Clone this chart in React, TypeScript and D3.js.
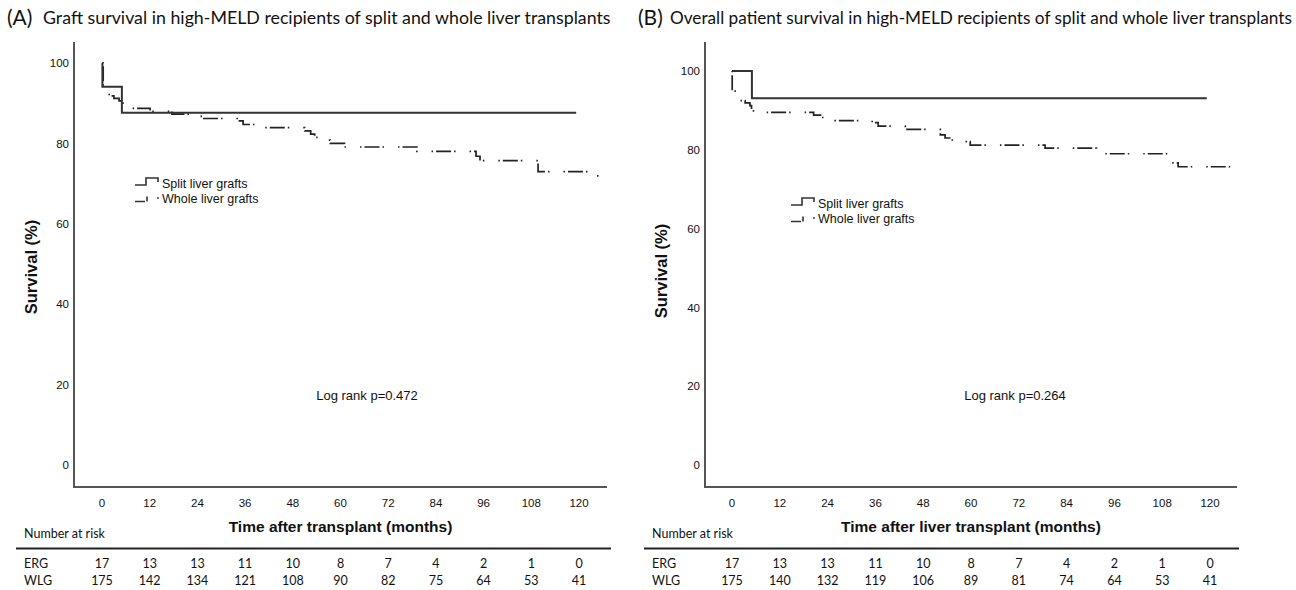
import * as d3 from "d3";

// x axis ticks (months) and y axis ticks (%)
const timeTicks = [0, 12, 24, 36, 48, 60, 72, 84, 96, 108, 120];
const survivalTicks = [0, 20, 40, 60, 80, 100];

// (A) graft survival: Kaplan-Meier steps as [month, survival %]
const graftSplit = [[0, 100], [0.1, 94.1], [5, 87.6], [119.3, 87.6]];
const graftWhole = [
  [0, 100], [0.3, 92.4], [1.8, 91.8], [3, 91.2], [4.3, 90.6], [4.8, 90.0],
  [5.8, 88.7], [12.1, 88.0], [17.6, 87.3], [24.2, 86.7], [25.4, 86.2],
  [34, 85.6], [35.5, 84.7], [40.3, 83.9], [51, 83.1], [52.5, 82.3],
  [53.5, 81.5], [54.3, 80.8], [57.4, 80.0], [61, 79.1], [79.2, 78.0],
  [94.1, 76.8], [95.1, 75.7], [109.7, 73.0], [124.5, 71.9], [125.3, 71.9],
];
const graftErg = [17, 13, 13, 11, 10, 8, 7, 4, 2, 1, 0];
const graftWlg = [175, 142, 134, 121, 108, 90, 82, 75, 64, 53, 41];

// (B) overall patient survival
const patientSplit = [[0, 100], [5, 93.1], [119.2, 93.1]];
const patientWhole = [
  [0, 100], [0.05, 94.9], [1.2, 92.5], [3.3, 91.9], [4.5, 91.2], [4.9, 89.9],
  [7.8, 89.5], [20.5, 88.8], [22.5, 88.2], [25.9, 87.4], [35.2, 86.9],
  [36.7, 86.0], [43.5, 85.2], [52.3, 83.8], [53.5, 83.0], [55.3, 82.1],
  [59.8, 81.2], [78.6, 80.4], [91.5, 79.0], [110, 76.7], [112, 75.7],
  [127, 75.7],
];
const patientErg = [17, 13, 13, 11, 10, 8, 7, 4, 2, 1, 0];
const patientWlg = [175, 140, 132, 119, 106, 89, 81, 74, 64, 53, 41];

const legendLabels = ["Split liver grafts", "Whole liver grafts"];
const rowLabels = ["ERG", "WLG"];

const wholeDash = "1.5,3,15,3,1.5,14";
const sans = "'Liberation Sans', Arial, sans-serif";
const humanist = "Lato, 'Open Sans', sans-serif";

type Pt = number[];

const Panel = ({ ...props }: any) => {
  const p = props;
  const x = d3.scaleLinear().domain([0, 120]).range(p.xRange);
  const y = d3.scaleLinear().domain([0, 100]).range(p.yRange);
  const line = d3
    .line<Pt>()
    .x((d) => x(d[0]))
    .y((d) => y(d[1]))
    .curve(d3.curveStepAfter);

  const xMid = (p.xRange[0] + p.xRange[1]) / 2;
  const yMid = (p.yRange[0] + p.yRange[1]) / 2;
  const lg = p.legend;

  return (
    <g>
      {/* title */}
      <text x={p.titleX} y={25} fontFamily={humanist} fontSize={21} fill="#111">
        {p.letter}
      </text>
      <text x={p.titleX + p.titleGap} y={24} fontFamily={humanist} fontSize={p.titleSize} fill="#111">
        {p.title}
      </text>

      {/* axes */}
      <path
        d={`M${p.axisLeft},${p.axisTop}V${p.axisBottom}H${p.axisRight}`}
        fill="none"
        stroke="#555"
        strokeWidth={2}
      />
      {survivalTicks.map((t) => (
        <text
          key={t}
          x={p.axisLeft - 5}
          y={y(t)}
          dy="0.36em"
          textAnchor="end"
          fontFamily={sans}
          fontSize={11.5}
          fill="#111"
        >
          {t}
        </text>
      ))}
      {timeTicks.map((t) => (
        <text
          key={t}
          x={x(t)}
          y={p.axisBottom + 16}
          dy="0.36em"
          textAnchor="middle"
          fontFamily={sans}
          fontSize={11.5}
          fill="#111"
        >
          {t}
        </text>
      ))}
      <text
        transform={`translate(${p.yTitleX},${yMid + 3}) rotate(-90)`}
        textAnchor="middle"
        dy="0.36em"
        fontFamily={sans}
        fontWeight="bold"
        fontSize={16.5}
        fill="#111"
      >
        Survival (%)
      </text>
      <text
        x={xMid}
        y={526}
        dy="0.36em"
        textAnchor="middle"
        fontFamily={sans}
        fontWeight="bold"
        fontSize={15.5}
        fill="#111"
      >
        {p.xTitle}
      </text>

      {/* curves */}
      <path d={line(p.whole) ?? ""} fill="none" stroke="#222" strokeWidth={1.7} strokeDasharray={wholeDash} />
      <path d={line(p.split) ?? ""} fill="none" stroke="#333" strokeWidth={2} />

      {/* legend */}
      <path
        d={`M${lg.x},${lg.y + 2}h11v-7h12v4`}
        fill="none"
        stroke="#333"
        strokeWidth={1.6}
      />
      <path
        d={`M${lg.x},${lg.y + 18.5}h10M${lg.x + 12},${lg.y + 18.5}v-5`}
        fill="none"
        stroke="#333"
        strokeWidth={1.6}
      />
      <circle cx={lg.x + 23} cy={lg.y + 15} r={0.9} fill="#333" />
      {legendLabels.map((s, i) => (
        <text
          key={s}
          x={lg.x + 27}
          y={lg.y + i * 15}
          dy="0.36em"
          fontFamily={sans}
          fontSize={12.5}
          fill="#111"
        >
          {s}
        </text>
      ))}

      <text
        x={p.logRankX}
        y={395}
        dy="0.36em"
        textAnchor="middle"
        fontFamily={sans}
        fontSize={13}
        fill="#111"
      >
        {p.logRank}
      </text>

      {/* number at risk table */}
      <text x={p.tableLeft + 8} y={533} dy="0.36em" fontFamily={humanist} fontSize={12.5} fill="#111">
        Number at risk
      </text>
      <line
        x1={p.tableLeft}
        x2={p.tableRight}
        y1={548.5}
        y2={548.5}
        stroke="#222"
        strokeWidth={2}
      />
      {[p.erg, p.wlg].map((row: number[], r: number) => (
        <g key={r}>
          <text
            x={p.tableLeft + 8}
            y={563 + r * 17}
            dy="0.36em"
            fontFamily={humanist}
            fontSize={12.5}
            fill="#111"
          >
            {rowLabels[r]}
          </text>
          {row.map((v, i) => (
            <text
              key={i}
              x={x(timeTicks[i])}
              y={563 + r * 17}
              dy="0.36em"
              textAnchor="middle"
              fontFamily={humanist}
              fontSize={12.5}
              fill="#111"
            >
              {v}
            </text>
          ))}
        </g>
      ))}
    </g>
  );
};

export default function App() {
  return (
    <svg
      width={1296}
      height={590}
      style={{ position: "absolute", left: 0, top: 0, background: "#fff" }}
    >
      <Panel
        letter="(A)"
        titleX={7}
        titleGap={36}
        titleSize={17.8}
        title="Graft survival in high-MELD recipients of split and whole liver transplants"
        xRange={[102, 579]}
        yRange={[465, 63]}
        axisLeft={74}
        axisRight={607}
        axisTop={42}
        axisBottom={487}
        yTitleX={31}
        xTitle="Time after transplant (months)"
        split={graftSplit}
        whole={graftWhole}
        legend={{ x: 135, y: 183 }}
        logRank="Log rank p=0.472"
        logRankX={367}
        tableLeft={16}
        tableRight={611}
        erg={graftErg}
        wlg={graftWlg}
      />
      <Panel
        letter="(B)"
        titleX={638}
        titleGap={32}
        titleSize={17.2}
        title="Overall patient survival in high-MELD recipients of split and whole liver transplants"
        xRange={[732, 1210]}
        yRange={[465, 71]}
        axisLeft={705}
        axisRight={1237}
        axisTop={42}
        axisBottom={487}
        yTitleX={661}
        xTitle="Time after liver transplant (months)"
        split={patientSplit}
        whole={patientWhole}
        legend={{ x: 791, y: 203 }}
        logRank="Log rank p=0.264"
        logRankX={1015}
        tableLeft={644}
        tableRight={1239}
        erg={patientErg}
        wlg={patientWlg}
      />
    </svg>
  );
}
